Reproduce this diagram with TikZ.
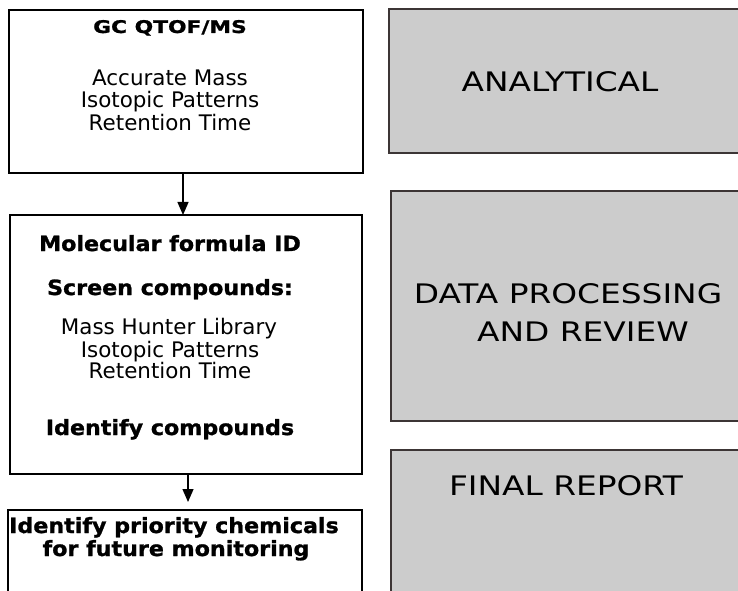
\documentclass[tikz,border=0pt]{standalone}
\usepackage{fontspec}
\setmainfont{DejaVu Sans}
\newfontfamily\headfont[FakeStretch=1.06,FakeBold=1.2]{DejaVu Sans}
\newfontfamily\titlefont[FakeStretch=1.25,FakeBold=1.2]{DejaVu Sans}
\newfontfamily\stagefont[FakeStretch=1.22]{DejaVu Sans}
\usetikzlibrary{arrows.meta}
\definecolor{stagegray}{HTML}{CCCCCC}
\definecolor{stageline}{HTML}{3C3535}
\begin{document}
\begin{tikzpicture}[x=1bp,y=-1bp,
  stepbox/.style={draw=black,line width=1.3bp,fill=white,inner sep=0pt,outer sep=0pt},
  stagebox/.style={draw=stageline,line width=1.2bp,fill=stagegray,inner sep=0pt,outer sep=0pt},
  item/.style={anchor=base,inner sep=0pt,font=\fontsize{21.5}{24}\selectfont},
  head/.style={anchor=base,inner sep=0pt,font=\headfont\bfseries\fontsize{21}{24}\selectfont},
  stage/.style={anchor=base,inner sep=0pt,font=\stagefont\fontsize{27}{30}\selectfont},
  flow/.style={draw=black,line width=1.3bp,-{Triangle[width=11bp,length=13bp]}}]
\clip (0,0) rectangle (738,591);
\fill[white] (0,0) rectangle (738,591);
% left column
\node[stepbox,minimum width=354bp,minimum height=163bp] (box1) at (186,91.5) {};
\node[stepbox,minimum width=352bp,minimum height=259bp] (box2) at (186,344.5) {};
\node[stepbox,minimum width=354bp,minimum height=90bp] (box3) at (185,555) {};
% right column
\node[stagebox,minimum width=356bp,minimum height=144bp] (side1) at (567,81) {};
\node[stagebox,minimum width=354bp,minimum height=230bp] (side2) at (568,306) {};
\node[stagebox,minimum width=354bp,minimum height=150bp] (side3) at (568,525) {};
% texts
\node[anchor=base,inner sep=0pt,font=\titlefont\bfseries\fontsize{17.5}{20}\selectfont] (gc) at (170,33) {GC QTOF/MS};
\node[item] (acc) at (170,86) {Accurate Mass};
\node[item] (iso1) at (170,108) {Isotopic Patterns};
\node[item] (ret1) at (170,131) {Retention Time};
\node[head] (mol) at (170,251) {Molecular formula ID};
\node[head] (scr) at (170,295) {Screen compounds:};
\node[item] (lib) at (169,334) {Mass Hunter Library};
\node[item] (iso2) at (170,357) {Isotopic Patterns};
\node[item] (ret2) at (170,378) {Retention Time};
\node[head] (idc) at (170,435) {Identify compounds};
\node[head] (pri) at (174,533) {Identify priority chemicals};
\node[head] (fut) at (176,556) {for future monitoring};
\node[stage] (ana) at (560,92) {ANALYTICAL};
\node[stage] (dat) at (568,303) {DATA PROCESSING};
\node[stage] (rev) at (583,341) {AND REVIEW};
\node[stage] (fin) at (566,495) {FINAL REPORT};
% arrows
\coordinate (a1) at (183,0);
\coordinate (a2) at (188,0);
\coordinate (a2end) at (188,502);
\draw[flow] (box1.south -| a1) -- (box2.north -| a1);
\draw[flow] (box2.south -| a2) -- (a2end);
\end{tikzpicture}
\end{document}
